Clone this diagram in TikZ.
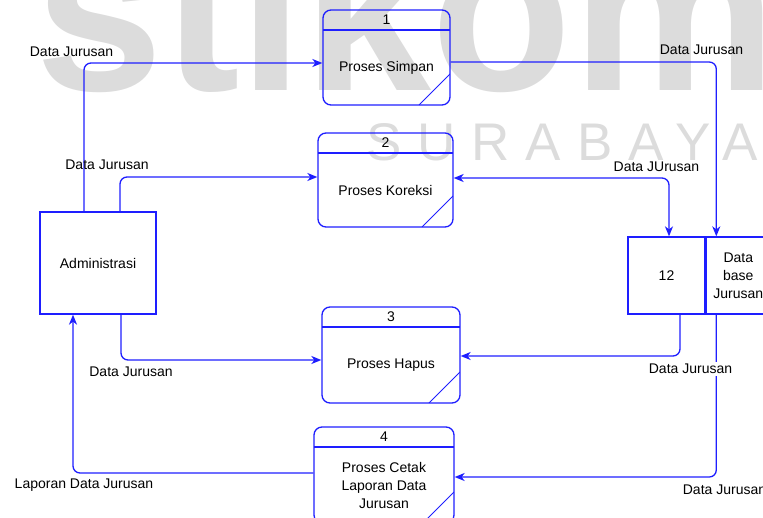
\documentclass[tikz,border=0pt]{standalone}
\usepackage{fontspec}
\setmainfont{Liberation Sans}
\usetikzlibrary{arrows.meta,positioning,calc}
\definecolor{DfdBlue}{RGB}{30,30,255}
\definecolor{MarkGray}{RGB}{220,220,220}

\begin{document}
\begin{tikzpicture}[
    x=1pt, y=-1pt,
    font=\fontsize{14}{18}\selectfont,
    wmark/.style={text=MarkGray, inner sep=0pt, anchor=base west},
    proc/.style 2 args={draw=DfdBlue, line width=1.3pt, rounded corners=8pt,
      path picture={
        \draw[DfdBlue, line width=1.3pt] ([yshift=-20pt]path picture bounding box.north west) -- ([yshift=-20pt]path picture bounding box.north east);
        \draw[DfdBlue, line width=1pt] ([xshift=-31pt]path picture bounding box.south east) -- ([yshift=31pt]path picture bounding box.south east);},
      label={[anchor=center, yshift=-10pt]north:#1},
      label={[anchor=center, yshift=-10pt, align=center]center:{#2}}},
    entity/.style={draw=DfdBlue, line width=1.3pt, align=center},
    store/.style={draw=DfdBlue, line width=1.3pt, align=center, minimum height=77, inner sep=1pt},
    flow/.style={draw=DfdBlue, line width=1.3pt, rounded corners=7pt, -{Stealth[length=10pt,width=8pt,inset=3pt]}},
    bothflow/.style={flow, {Stealth[length=10pt,width=8pt,inset=3pt]}-{Stealth[length=10pt,width=8pt,inset=3pt]}},
    lbl/.style={inner sep=1pt},
    cutlbl/.style={lbl, fill=white, inner sep=2pt}
  ]
    \useasboundingbox (0,0) rectangle (763,517);

    % watermark
    \node[wmark, font=\fontsize{230}{230}\selectfont\bfseries] (wm1) at (35,90) {stikom};
    \node[wmark, font=\fontsize{53}{53}\selectfont\addfontfeature{LetterSpace=30}] (wm2) at (366,160) {SURABAYA};

    % processes
    \node[proc={1}{Proses Simpan}, minimum width=127, minimum height=95] (p1) at (386.5,57.5) {};
    \node[proc={2}{Proses Koreksi}, minimum width=135, minimum height=94] (p2) at (385.5,180) {};
    \node[proc={3}{Proses Hapus}, minimum width=138, minimum height=96] (p3) at (391,355) {};
    \node[proc={4}{Proses Cetak\\Laporan Data\\Jurusan}, minimum width=140, minimum height=96] (p4) at (384,475) {};

    % entity and data store
    \node[entity, minimum width=116, minimum height=102] (adm) at (98,263) {Administrasi};
    \node[store, minimum width=77] (sid) at (666.5,275.5) {12};
    \node[store, minimum width=64, right=0pt of sid] (sname) {Data\\base\\Jurusan};

    % flows
    \draw[flow] ([xshift=-14pt]adm.north) |- ([yshift=-5.5pt]p1.west);
    \draw[flow] ([xshift=22pt]adm.north) |- ([yshift=3pt]p2.west);
    \draw[flow] ([yshift=-4.5pt]p1.east) -| ([xshift=-22pt]sname.north);
    \draw[bothflow] ([xshift=2.5pt]sid.north) |- ([yshift=2pt]p2.east);
    \draw[flow] ([xshift=23pt]adm.south) |- ([yshift=-5pt]p3.west);
    \draw[flow] ([xshift=13.5pt]sid.south) |- ([yshift=-1pt]p3.east);
    \draw[flow] ([xshift=-22pt]sname.south) |- ([yshift=-2pt]p4.east);
    \draw[flow] ([yshift=2pt]p4.west) -| ([xshift=-25pt]adm.south);

    % flow labels
    \node[lbl] (l1) at (71.5,52) {Data Jurusan};
    \node[lbl] (l2) at (107,165) {Data Jurusan};
    \node[lbl] (l3) at (701.5,50) {Data Jurusan};
    \node[lbl] (l4) at (656.5,167) {Data JUrusan};
    \node[lbl] (l5) at (131,372) {Data Jurusan};
    \node[cutlbl] (l6) at (690.5,369) {Data Jurusan};
    \node[lbl] (l7) at (724.5,490) {Data Jurusan};
    \node[lbl] (l8) at (84,485) {Laporan Data Jurusan};
  \end{tikzpicture}
\end{document}
